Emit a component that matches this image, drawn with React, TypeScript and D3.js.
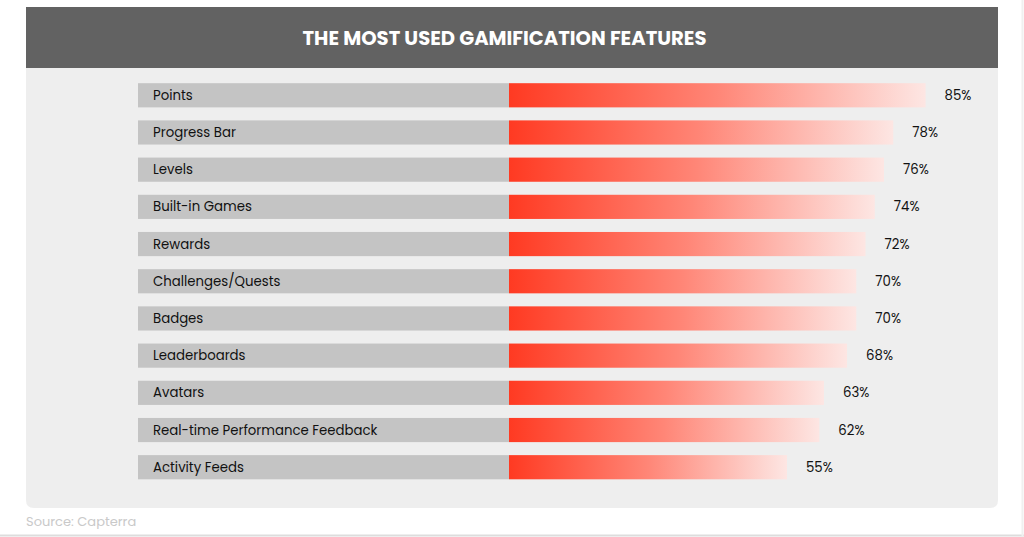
import React, { useEffect, useRef } from 'react';
import * as d3 from 'd3';

const categories = [
  'Points',
  'Progress Bar',
  'Levels',
  'Built-in Games',
  'Rewards',
  'Challenges/Quests',
  'Badges',
  'Leaderboards',
  'Avatars',
  'Real-time Performance Feedback',
  'Activity Feeds',
];
const values = [85, 78, 76, 74, 72, 70, 70, 68, 63, 62, 55];
const valueLabels = values.map((v) => v + '%');

const title = 'THE MOST USED GAMIFICATION FEATURES';
const source = 'Source: Capterra';

const FONT = 'Poppins, Inter, "Open Sans", sans-serif';

export default function App() {
  const ref = useRef<SVGSVGElement>(null);

  useEffect(() => {
    const width = 1024;
    const height = 537;
    const svg = d3.select(ref.current);
    svg.selectAll('*').remove();

    // page + faint card edge
    svg.append('rect').attr('width', width).attr('height', height).attr('fill', '#ffffff');
    svg.append('line').attr('x1', 0).attr('x2', width).attr('y1', 535.5).attr('y2', 535.5)
      .attr('stroke', '#dddddd').attr('stroke-width', 2);
    svg.append('line').attr('x1', 1022.5).attr('x2', 1022.5).attr('y1', 0).attr('y2', 536)
      .attr('stroke', '#f0f0f0').attr('stroke-width', 2);

    // panel (rounded bottom)
    const px = 26, pr = 998, py = 68, pb = 508, r = 8;
    svg.append('path')
      .attr('d', `M${px},${py}H${pr}V${pb - r}Q${pr},${pb} ${pr - r},${pb}H${px + r}Q${px},${pb} ${px},${pb - r}Z`)
      .attr('fill', '#eeeeee');

    // title band
    svg.append('rect').attr('x', px).attr('y', 7).attr('width', pr - px).attr('height', py - 7).attr('fill', '#626262');
    svg.append('text').attr('x', 504.5).attr('y', 38)
      .attr('text-anchor', 'middle').attr('dominant-baseline', 'central')
      .attr('fill', '#ffffff').attr('font-family', FONT).attr('font-weight', 700).attr('font-size', 19.6)
      .text(title);

    svg.append('text').attr('x', 26).attr('y', 521).attr('dominant-baseline', 'central')
      .attr('fill', '#c9c9c9').attr('font-family', FONT).attr('font-size', 13).text(source);

    // gradient
    const defs = svg.append('defs');
    const grad = defs.append('linearGradient').attr('id', 'barGrad').attr('x1', '0%').attr('x2', '100%');
    grad.append('stop').attr('offset', '0%').attr('stop-color', '#ff3a22');
    grad.append('stop').attr('offset', '50%').attr('stop-color', '#ff8677');
    grad.append('stop').attr('offset', '100%').attr('stop-color', '#fde6e3');

    // scales
    const y = d3.scaleBand().domain(categories).range([76.5, 486]).paddingInner(0.35).paddingOuter(0.18);
    const labelLeft = 138;
    const barStart = 509;
    const x = d3.scaleLinear().domain([55, 85]).range([787, 925.6]);

    const rows = svg.append('g').selectAll('g').data(categories).enter().append('g')
      .attr('transform', (d) => `translate(0,${y(d)})`);

    rows.append('rect').attr('x', labelLeft).attr('width', barStart - labelLeft)
      .attr('height', y.bandwidth()).attr('fill', '#c4c4c4');

    rows.append('rect').attr('x', barStart)
      .attr('width', (d, i) => x(values[i]) - barStart)
      .attr('height', y.bandwidth()).attr('fill', 'url(#barGrad)');

    rows.append('text').attr('x', 153).attr('y', y.bandwidth() / 2).attr('dominant-baseline', 'central')
      .attr('font-family', FONT).attr('font-size', 13.3).attr('fill', '#111111')
      .text((d) => d);

    rows.append('text').attr('x', (d, i) => x(values[i]) + 19).attr('y', y.bandwidth() / 2)
      .attr('dominant-baseline', 'central')
      .attr('font-family', FONT).attr('font-size', 13.3).attr('fill', '#111111')
      .text((d, i) => valueLabels[i]);
  }, []);

  return (
    <svg ref={ref} width={1024} height={537} style={{ position: 'absolute', left: 0, top: 0 }} />
  );
}
